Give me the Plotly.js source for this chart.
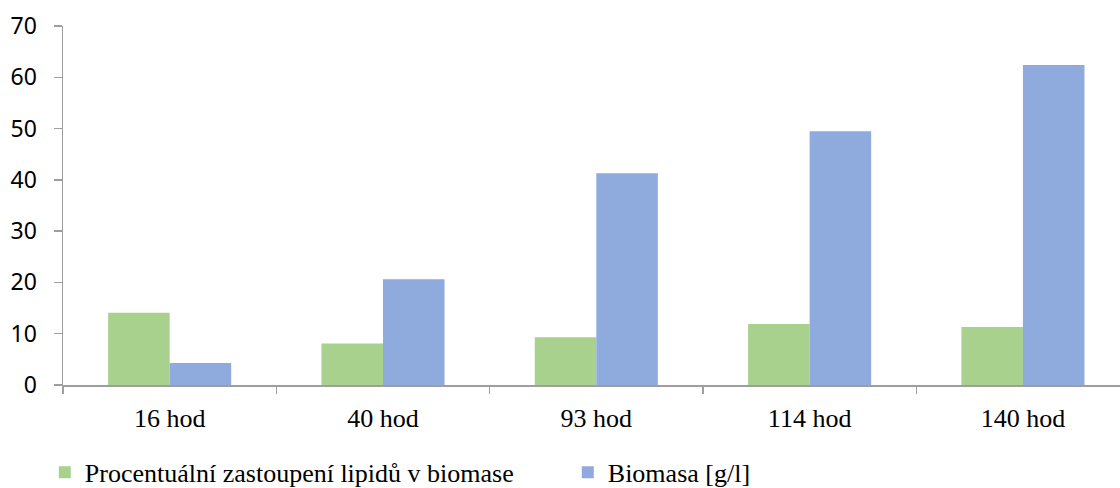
<!DOCTYPE html>
<html>
<head>
<meta charset="utf-8">
<script src="https://cdn.plot.ly/plotly-3.0.1.min.js"></script>
<style>html,body{margin:0;padding:0;background:#fff;}#chart{width:1120px;height:488px;}</style>
</head>
<body>
<div id="chart"></div>
<script>
const categories = ["16 hod", "40 hod", "93 hod", "114 hod", "140 hod"];
const lipidy = [14.1, 8.1, 9.3, 11.9, 11.3];
const biomasa = [4.3, 20.6, 41.3, 49.5, 62.4];
const seriesNames = ["Procentuální zastoupení lipidů v biomase", "Biomasa [g/l]"];
const yTicks = [0, 10, 20, 30, 40, 50, 60, 70];

const data = [
  {type: "bar", x: categories, y: lipidy, name: seriesNames[0],
   marker: {color: "#A9D18E", line: {width: 0}}},
  {type: "bar", x: categories, y: biomasa, name: seriesNames[1],
   marker: {color: "#8FAADC", line: {width: 0}}}
];

const layout = {
  width: 1120, height: 488,
  margin: {l: 63, r: 0, t: 26, b: 103, autoexpand: false},
  paper_bgcolor: "#fff", plot_bgcolor: "#fff",
  barmode: "group", bargap: 0.423, bargroupgap: 0,
  showlegend: true,
  legend: {orientation: "h", xref: "container", yref: "container",
           x: 0.040, xanchor: "left", y: 0.032, yanchor: "middle",
           font: {family: "Liberation Serif", size: 26, color: "#000"},
           entrywidth: 478, entrywidthmode: "pixels", traceorder: "normal"},
  xaxis: {type: "category", range: [-0.5, 4.455], showline: true, linecolor: "#9e9e9e", linewidth: 1.5,
          ticks: "outside", tickson: "boundaries", ticklen: 7, tickcolor: "#9e9e9e", tickwidth: 1.5,
          showgrid: false, zeroline: false,
          tickfont: {family: "Liberation Serif", size: 26, color: "#000"}, ticklabelstandoff: 9},
  yaxis: {range: [0, 70], tickvals: yTicks, showline: true, linecolor: "#9e9e9e", linewidth: 1.5,
          ticks: "outside", ticklen: 8, tickcolor: "#9e9e9e", tickwidth: 1.5,
          showgrid: false, zeroline: false,
          tickfont: {family: "Noto Sans", size: 23, color: "#000"}, ticklabelstandoff: 12}
};

Plotly.newPlot("chart", data, layout, {displayModeBar: false, staticPlot: true});
</script>
</body>
</html>
